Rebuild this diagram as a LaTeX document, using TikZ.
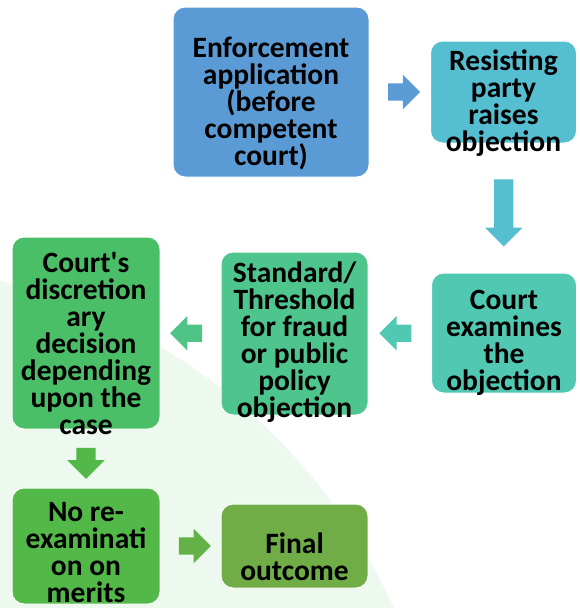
\documentclass[tikz,border=0pt]{standalone}
\usepackage{fontspec}
\setmainfont{Carlito}
\usetikzlibrary{shapes.arrows,calc}

\definecolor{cBlue}{HTML}{5B9BD5}
\definecolor{cCyan}{HTML}{55BED0}
\definecolor{cTeal}{HTML}{50C8B2}
\definecolor{cSea}{HTML}{4EC58D}
\definecolor{cGreen}{HTML}{4BBF67}
\definecolor{cLeaf}{HTML}{52B848}
\definecolor{cOlive}{HTML}{70AD47}
\definecolor{cMark}{HTML}{EDF8EE}

\tikzset{
  stepbox/.style={draw=white,line width=1pt,rounded corners=12pt,inner sep=0pt},
  steptext/.style={align=center,inner sep=0pt,
    font=\fontsize{29.5}{27}\selectfont\bfseries},
  blockarrow/.style={single arrow,inner xsep=0pt,inner ysep=8.5pt,
    single arrow head extend=8.5pt,draw=none},
  tallarrow/.style={single arrow,inner xsep=9.5pt,inner ysep=0pt,
    single arrow head extend=9pt,draw=none,shape border rotate=270}
}

\begin{document}
\begin{tikzpicture}[x=1pt,y=-1pt]
  \useasboundingbox (0,0) rectangle (579,608);
  % faint logo behind the chart
  \begin{scope}
    \clip (0,0) rectangle (579,608);
    \fill[cMark] (-140,850) circle (586);
  \end{scope}

  % boxes
  \node[stepbox,fill=cBlue,minimum width=196pt,minimum height=170pt]
    (enf) at (271,92) {};
  \node[stepbox,fill=cCyan,minimum width=146pt,minimum height=102pt]
    (res) at (503.5,92) {};
  \node[stepbox,fill=cTeal,minimum width=145pt,minimum height=120pt]
    (exa) at (504,333) {};
  \node[stepbox,fill=cSea,minimum width=147pt,minimum height=163pt]
    (thr) at (294.5,333.5) {};
  \node[stepbox,fill=cGreen,minimum width=148pt,minimum height=192pt]
    (dis) at (86,333) {};
  \node[stepbox,fill=cLeaf,minimum width=148pt,minimum height=116pt]
    (mer) at (86,546) {};
  \node[stepbox,fill=cOlive,minimum width=147pt,minimum height=84pt]
    (fin) at (294.5,546) {};

  % texts
  \node[steptext] (enf-t) at ([yshift=-11]enf.center)
    {Enforcement\\application\\(before\\competent\\court)};
  \node[steptext] (res-t) at ([yshift=-11]res.center)
    {Resisting\\party\\raises\\objection};
  \node[steptext] (exa-t) at ([yshift=-10]exa.center)
    {Court\\examines\\the\\objection};
  \node[steptext] (thr-t) at ([yshift=-9]thr.center)
    {Standard/\\Threshold\\for fraud\\or public\\policy\\objection};
  \node[steptext] (dis-t) at ([yshift=-11]dis.center)
    {Court\textquotesingle s\\discretion\\ary\\decision\\depending\\upon the\\case};
  \node[steptext] (mer-t) at ([yshift=-7]mer.center)
    {No re-\\examinati\\on on\\merits};
  \node[steptext] (fin-t) at ([yshift=-11]fin.center)
    {Final\\outcome};

  % arrows
  \node[blockarrow,fill=cBlue,minimum height=32pt]
    (a1) at ($(enf.east)!0.5!(res.west)$) {};
  \node[tallarrow,fill=cCyan,minimum height=67pt]
    (a2) at ($(res.south)!0.5!(exa.north)$) {};
  \node[blockarrow,fill=cTeal,minimum height=32pt,shape border rotate=180]
    (a3) at ($(exa.west)!0.5!(thr.east)$) {};
  \node[blockarrow,fill=cSea!85!cGreen,minimum height=32pt,shape border rotate=180]
    (a4) at ($(thr.west)!0.5!(dis.east)$) {};
  \node[tallarrow,fill=cLeaf,minimum height=31pt]
    (a5) at ($(dis.south)!0.5!(mer.north)$) {};
  \node[blockarrow,fill=cLeaf!40!cOlive,minimum height=32pt]
    (a6) at ($(mer.east)!0.5!(fin.west)$) {};
\end{tikzpicture}
\end{document}
